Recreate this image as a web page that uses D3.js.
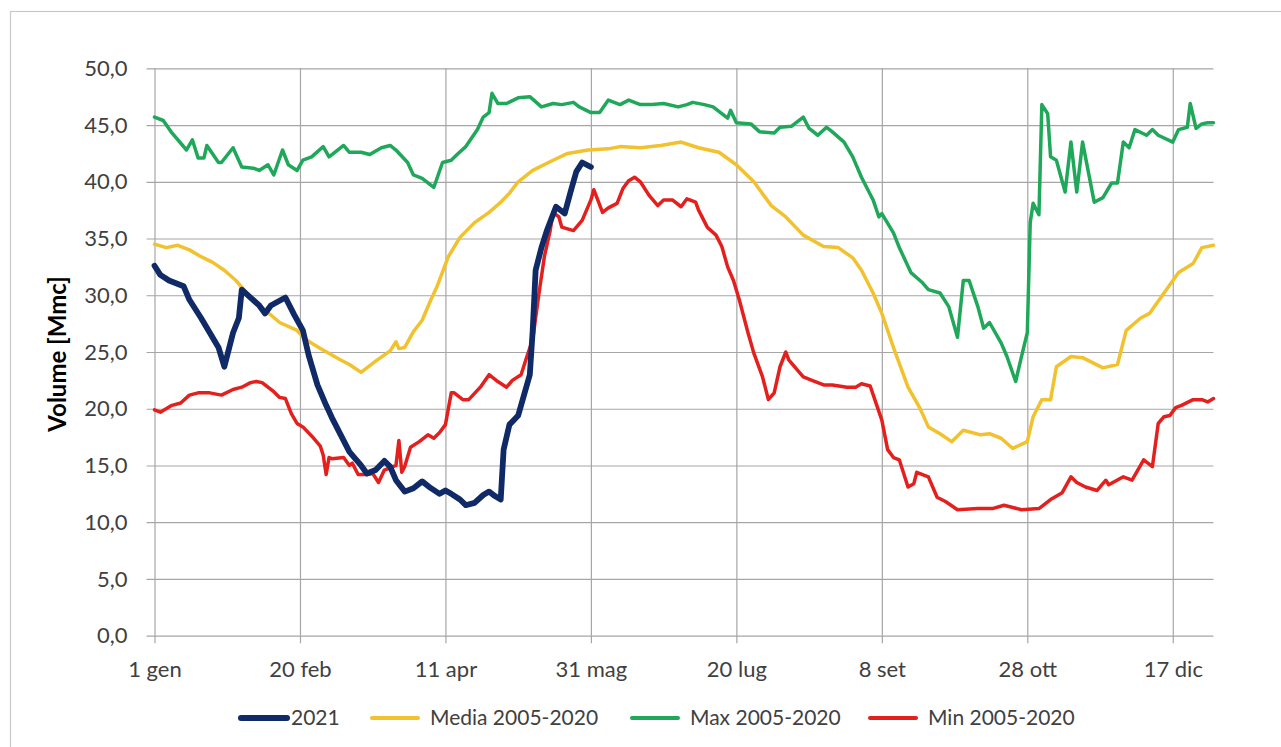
<!DOCTYPE html>
<html><head><meta charset="utf-8">
<script src="https://cdn.jsdelivr.net/npm/d3@7"></script>
<style>
html,body{margin:0;padding:0;background:#fff;}
svg{display:block;font-family:Lato,"Open Sans",sans-serif;}
</style></head>
<body><svg id="c" width="1281" height="747"></svg>
<script>
// ---- data (day of year, volume Mmc) ----
const tickDays = [1, 51, 101, 151, 201, 251, 301, 351];
const tickLabels = ["1 gen", "20 feb", "11 apr", "31 mag", "20 lug", "8 set", "28 ott", "17 dic"];
const yTicks = [0, 5, 10, 15, 20, 25, 30, 35, 40, 45, 50];
const seriesNames = ["2021", "Media 2005-2020", "Max 2005-2020", "Min 2005-2020"];
const seriesColors = ["#0f2a66", "#f2c12e", "#1fa85a", "#e4201e"];

const s2021 = [[1,32.6],[3,31.8],[6,31.3],[11,30.8],[13,29.6],[17,28.0],[20,26.7],[23,25.4],[25,23.7],[28,26.7],[30,28.0],[31,30.5],[34,29.8],[37,29.1],[39,28.4],[41,29.1],[46,29.8],[49,28.3],[52,26.9],[54,24.7],[57,22.1],[60,20.3],[62,19.2],[65,17.7],[68,16.2],[72,15.0],[74,14.3],[77,14.6],[80,15.4],[82,14.9],[84,13.7],[87,12.7],[90,13.0],[93,13.6],[96,13.0],[99,12.5],[101,12.8],[103,12.5],[106,12.0],[108,11.5],[111,11.7],[114,12.4],[116,12.7],[118,12.3],[120,12.0],[121,16.4],[123,18.6],[126,19.4],[128,21.2],[130,23.0],[131,26.9],[132,32.2],[134,34.2],[136,35.8],[139,37.8],[142,37.2],[144,39.1],[146,40.9],[148,41.7],[151,41.3]];

const sMedia = [[1,34.5],[5,34.2],[9,34.4],[13,34.0],[17,33.4],[21,32.9],[25,32.2],[29,31.3],[34,29.8],[39,28.7],[44,27.6],[50,26.9],[53,26.1],[58,25.3],[65,24.3],[68,23.9],[72,23.2],[77,24.2],[82,25.1],[84,25.9],[85,25.3],[87,25.4],[90,26.8],[93,27.8],[96,29.6],[98,30.7],[102,33.4],[106,35.1],[111,36.4],[116,37.3],[120,38.2],[123,39.0],[126,40.0],[131,41.0],[138,41.9],[143,42.5],[150,42.8],[157,42.9],[161,43.1],[168,43.0],[175,43.2],[182,43.5],[188,43.0],[195,42.6],[201,41.5],[207,40.0],[213,37.9],[218,36.9],[224,35.3],[231,34.3],[236,34.2],[241,33.3],[244,32.2],[248,30.2],[251,28.4],[255,25.4],[260,21.9],[264,20.1],[267,18.4],[271,17.8],[275,17.1],[279,18.1],[285,17.7],[288,17.8],[292,17.4],[296,16.5],[301,17.1],[303,19.3],[306,20.8],[309,20.8],[311,23.7],[316,24.6],[320,24.5],[327,23.6],[332,23.9],[335,26.9],[340,28.0],[343,28.4],[348,30.2],[353,32.0],[358,32.8],[361,34.2],[365,34.4]];

const sMax = [[1,45.7],[4,45.4],[7,44.3],[12,42.8],[14,43.7],[16,42.1],[18,42.1],[19,43.2],[23,41.7],[24,41.7],[28,43.0],[31,41.3],[35,41.2],[37,41.0],[40,41.5],[42,40.6],[45,42.8],[47,41.5],[50,41.0],[52,41.9],[55,42.2],[59,43.1],[61,42.2],[66,43.2],[68,42.6],[72,42.6],[75,42.4],[79,43.0],[82,43.2],[84,42.8],[88,41.7],[90,40.6],[93,40.3],[97,39.5],[100,41.7],[103,41.9],[105,42.4],[108,43.1],[112,44.6],[114,45.7],[116,46.1],[117,47.8],[119,46.9],[122,46.9],[126,47.4],[130,47.5],[134,46.6],[138,46.9],[141,46.8],[145,47.0],[147,46.6],[151,46.1],[154,46.1],[157,47.2],[161,46.8],[164,47.2],[168,46.8],[172,46.8],[176,46.9],[181,46.6],[184,46.8],[186,47.0],[190,46.8],[193,46.6],[198,45.6],[199,46.3],[201,45.2],[206,45.1],[209,44.4],[214,44.3],[216,44.8],[220,44.9],[224,45.7],[226,44.7],[229,44.1],[232,44.8],[234,44.4],[238,43.5],[241,42.2],[244,40.4],[248,38.4],[250,36.9],[251,37.2],[255,35.5],[257,34.2],[261,32.0],[265,31.1],[267,30.5],[271,30.2],[274,29.0],[277,26.3],[279,31.3],[281,31.3],[284,29.0],[286,27.1],[288,27.6],[292,25.8],[294,24.6],[297,22.4],[299,24.6],[301,26.7],[302,36.4],[303,38.1],[305,37.1],[306,46.8],[308,46.0],[309,42.2],[311,41.9],[314,39.1],[316,43.5],[318,39.1],[320,43.5],[324,38.2],[327,38.6],[330,39.9],[332,39.9],[334,43.5],[336,43.0],[338,44.6],[342,44.1],[344,44.6],[346,44.1],[351,43.5],[353,44.6],[356,44.8],[357,46.9],[359,44.7],[361,45.1],[363,45.2],[365,45.2]];

const sMin = [[1,19.9],[3,19.7],[7,20.3],[10,20.5],[13,21.2],[16,21.4],[20,21.4],[24,21.2],[28,21.7],[31,21.9],[34,22.3],[36,22.4],[38,22.3],[42,21.5],[44,21.0],[46,20.9],[48,19.6],[50,18.7],[52,18.4],[55,17.6],[58,16.7],[59,15.9],[60,14.2],[61,15.7],[62,15.6],[66,15.7],[68,15.0],[69,15.2],[71,14.2],[74,14.2],[76,14.3],[78,13.5],[80,14.6],[82,14.8],[84,15.0],[85,17.2],[86,14.4],[87,14.9],[89,16.6],[92,17.1],[95,17.7],[97,17.4],[99,17.9],[101,18.6],[103,21.4],[104,21.4],[107,20.8],[109,20.8],[113,21.9],[116,23.0],[119,22.4],[122,21.9],[124,22.5],[127,23.0],[129,24.6],[131,26.1],[133,29.9],[135,33.4],[137,35.7],[138,37.3],[140,36.9],[141,36.0],[145,35.7],[148,36.6],[151,38.4],[152,39.3],[155,37.3],[157,37.7],[160,38.1],[162,39.4],[164,40.1],[166,40.4],[168,40.0],[171,38.8],[174,37.9],[176,38.4],[179,38.4],[182,37.8],[184,38.5],[187,38.2],[188,37.5],[191,36.0],[194,35.3],[196,34.3],[198,32.5],[200,31.3],[202,29.6],[205,26.7],[207,24.9],[210,22.8],[212,20.8],[214,21.4],[216,23.7],[218,25.0],[219,24.3],[222,23.4],[224,22.8],[227,22.5],[231,22.1],[234,22.1],[239,21.9],[242,21.9],[244,22.2],[247,22.0],[249,20.5],[251,19.0],[253,16.4],[255,15.7],[257,15.5],[260,13.1],[262,13.4],[263,14.4],[267,14.0],[270,12.2],[273,11.8],[277,11.1],[284,11.2],[289,11.2],[293,11.5],[299,11.1],[305,11.2],[309,12.0],[313,12.6],[316,14.0],[318,13.5],[321,13.1],[325,12.8],[328,13.7],[329,13.3],[334,14.0],[337,13.7],[341,15.5],[344,14.9],[346,18.7],[348,19.3],[350,19.4],[352,20.1],[354,20.3],[358,20.8],[361,20.8],[363,20.6],[365,20.9]];

// ---- drawing ----
const svg = d3.select("#c");
const x = d3.scaleLinear().domain([1, 365]).range([154.5, 1213.5]);
const y = d3.scaleLinear().domain([0, 50]).range([635.7, 68.3]);
const gridColor = "#a6a6a6";

// outer chart border
svg.append("rect").attr("x", 10.5).attr("y", 11.5).attr("width", 1300).attr("height", 800)
  .attr("fill", "none").attr("stroke", "#c8c8c8").attr("stroke-width", 1.2);

// horizontal gridlines via y axis
const yAxis = d3.axisLeft(y).tickValues(yTicks)
  .tickSize(-(1213.5 - 154.5)).tickPadding(27)
  .tickFormat(d => d.toFixed(1).replace(".", ","));
const gy = svg.append("g").attr("transform", "translate(154.5,0)").call(yAxis);
gy.select(".domain").remove();
gy.selectAll(".tick line").attr("stroke", gridColor).attr("x1", -8).attr("stroke-width", 1.2);
gy.selectAll(".tick text").attr("fill", "#404040").style("font-size", "22px").style("font-family", "Lato, sans-serif");

// vertical gridlines via x axis
const xAxis = d3.axisBottom(x).tickValues(tickDays)
  .tickSize(-(635.7 - 68.3)).tickPadding(26)
  .tickFormat((d, i) => tickLabels[i]);
const gx = svg.append("g").attr("transform", "translate(0,635.7)").call(xAxis);
gx.select(".domain").remove();
gx.selectAll(".tick line").attr("stroke", gridColor).attr("y1", 7.5).attr("stroke-width", 1.2);
gx.selectAll(".tick text").attr("fill", "#404040").style("font-size", "22px").style("font-family", "Lato, sans-serif");

// axis title
svg.append("text").attr("transform", "translate(66,354) rotate(-90)")
  .attr("text-anchor", "middle").attr("fill", "#000")
  .style("font-size", "24px").style("font-weight", "bold").text("Volume [Mmc]");

// series
const line = d3.line().x(d => x(d[0])).y(d => y(d[1]));
const allSeries = [sMin, sMax, sMedia, s2021];
const order = [3, 2, 1, 0];
allSeries.forEach((s, k) => {
  const idx = order[k];
  svg.append("path").datum(s).attr("d", line)
    .attr("fill", "none").attr("stroke", seriesColors[idx])
    .attr("stroke-width", idx === 0 ? 5.8 : 3.5)
    .attr("stroke-linejoin", "round").attr("stroke-linecap", "round");
});

// legend
const legendX = [241, 372, 632, 870];
const lg = svg.append("g");
seriesNames.forEach((n, i) => {
  lg.append("line").attr("x1", legendX[i]).attr("x2", legendX[i] + 46)
    .attr("y1", 718).attr("y2", 718).attr("stroke", seriesColors[i])
    .attr("stroke-width", i === 0 ? 6 : 4).attr("stroke-linecap", "round");
  lg.append("text").attr("x", legendX[i] + (i === 0 ? 50 : 58)).attr("y", 725)
    .attr("fill", "#404040").style("font-size", "21px").text(n);
});
</script></body></html>
